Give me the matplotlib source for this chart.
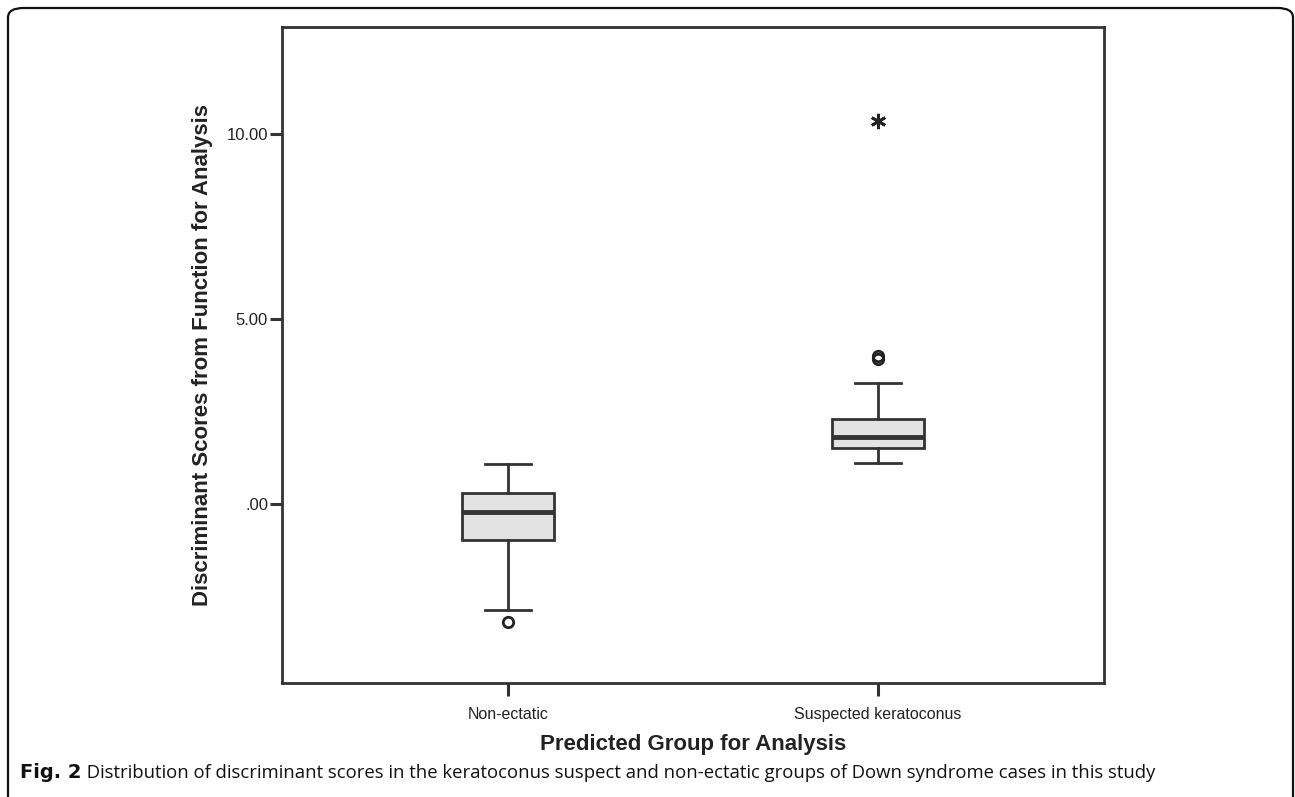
import matplotlib
matplotlib.use("Agg")
import matplotlib.pyplot as plt
from matplotlib.patches import FancyBboxPatch

# Datos
grupos = ["Non-ectatic", "Suspected keratoconus"]
bigote_inf = [-2.86, 1.11]
q1 = [-0.97, 1.51]
mediana = [-0.22, 1.81]
q3 = [0.30, 2.30]
bigote_sup = [1.08, 3.27]
atipicos = [[-3.19], [3.92, 4.00]]
extremos = [[], [10.35]]

y_ticks = [0, 5, 10]
y_tick_labels = [".00", "5.00", "10.00"]

plt.rcParams["font.family"] = ["Liberation Sans", "DejaVu Sans"]

fig = plt.figure(figsize=(12.95, 7.97), dpi=100)
ax = fig.add_axes([282 / 1295, 1 - 683 / 797, 822 / 1295, 656 / 797])

# Estadisticos para bxp
stats = []
for i, g in enumerate(grupos):
    stats.append({
        "label": g,
        "whislo": bigote_inf[i],
        "q1": q1[i],
        "med": mediana[i],
        "q3": q3[i],
        "whishi": bigote_sup[i],
        "fliers": atipicos[i],
    })

gris = "#333333"
ax.bxp(stats, positions=[1, 2], widths=0.25, patch_artist=True,
       boxprops=dict(facecolor="#e3e3e3", edgecolor=gris, linewidth=2),
       medianprops=dict(color=gris, linewidth=3.5),
       whiskerprops=dict(color=gris, linewidth=2),
       capprops=dict(color=gris, linewidth=2),
       capwidths=0.125,
       flierprops=dict(marker="o", markerfacecolor="none",
                       markeredgecolor="#222222", markersize=7.5,
                       markeredgewidth=2))

# Valores extremos con asterisco
for i, vals in enumerate(extremos):
    if vals:
        ax.plot([i + 1] * len(vals), vals, linestyle="none",
                marker=(6, 2, 0), markersize=11, markeredgewidth=2,
                color="#222222")

ax.set_xlim(0.39, 2.61)
ax.set_ylim(-4.84, 12.9)
ax.set_yticks(y_ticks)
ax.set_yticklabels(y_tick_labels, fontsize=12, color="#222222")
ax.set_xticks([1, 2])
ax.set_xticklabels(grupos, fontsize=11.5, color="#222222")
ax.tick_params(axis="both", length=9, width=2.2, color=gris, pad=1)
ax.tick_params(axis="x", pad=8)
for s in ax.spines.values():
    s.set_color(gris)
    s.set_linewidth(2)

ax.set_ylabel("Discriminant Scores from Function for Analysis",
              fontsize=16, fontweight="bold", labelpad=10, color="#222222")
ax.set_xlabel("Predicted Group for Analysis",
              fontsize=16, fontweight="bold", labelpad=9, color="#222222")

# Marco redondeado exterior
marco = FancyBboxPatch((8 / 1295, -0.05), 1285 / 1295, 1.05 - 8 / 797,
                       boxstyle="round,pad=0,rounding_size=0.012",
                       transform=fig.transFigure, fill=False,
                       edgecolor="#111111", linewidth=1.6, clip_on=False)
fig.patches.append(marco)

# Pie de figura
t1 = fig.text(20 / 1295, 1 - 773 / 797, "Fig. 2", fontsize=14,
              fontweight="bold", family=["DejaVu Sans"],
              va="center", color="#111111")
ax.annotate(" Distribution of discriminant scores in the keratoconus suspect "
            "and non-ectatic groups of Down syndrome cases in this study",
            xy=(1, 0.5), xycoords=t1, va="center", ha="left", fontsize=13.3,
            family=["Open Sans", "DejaVu Sans"], color="#111111",
            annotation_clip=False)

fig.savefig("out.png", dpi=100)
